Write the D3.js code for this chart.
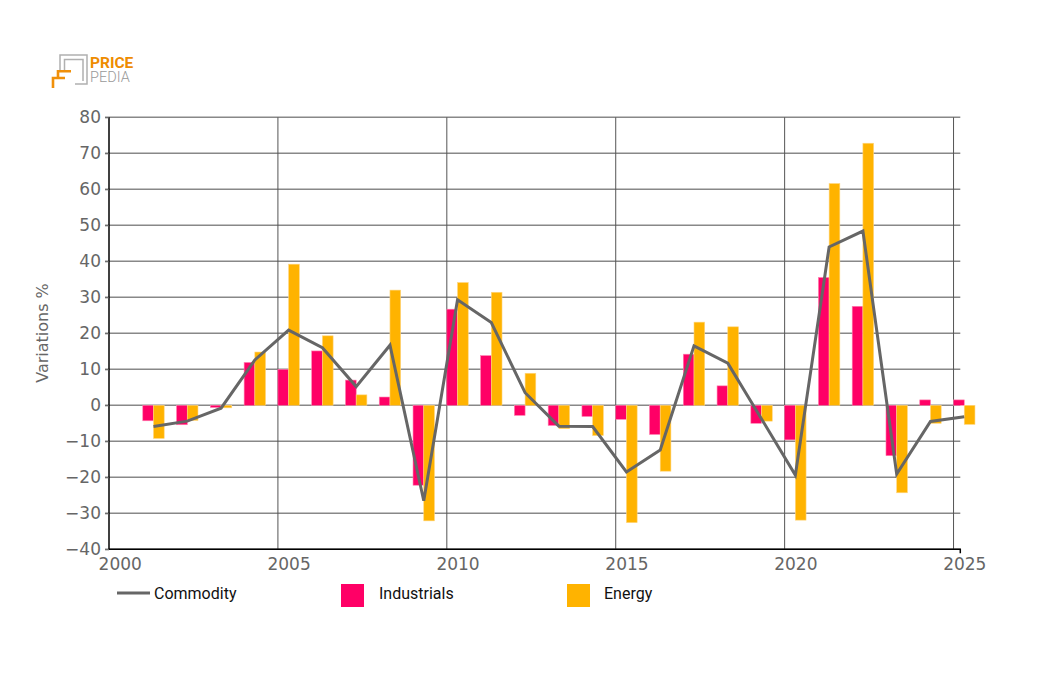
<!DOCTYPE html>
<html>
<head>
<meta charset="utf-8">
<script src="https://cdn.jsdelivr.net/npm/d3@7"></script>
<style>
  html, body { margin: 0; padding: 0; background: #fff; }
  svg { display: block; }
</style>
</head>
<body>
<svg id="chart" width="1056" height="700"></svg>
<script>
const years = [2001,2002,2003,2004,2005,2006,2007,2008,2009,2010,2011,2012,2013,2014,2015,2016,2017,2018,2019,2020,2021,2022,2023,2024,2025];
const industrials = [-4.3,-5.4,-0.6,11.9,10.0,15.1,7.0,2.3,-22.2,26.7,13.8,-2.8,-5.6,-3.1,-3.9,-8.1,14.2,5.4,-5.0,-9.6,35.5,27.5,-14.0,1.5,1.5];
const energy = [-9.2,-4.2,-0.7,14.8,39.2,19.3,2.9,32.0,-32.1,34.1,31.4,8.9,-6.5,-8.4,-32.6,-18.3,23.1,21.8,-4.4,-31.9,61.6,72.8,-24.3,-5.0,-5.3];
const commodity = [-5.9,-4.4,-0.8,12.6,20.9,16.0,5.2,16.7,-26.5,29.3,23.0,3.5,-5.8,-5.9,-18.5,-12.4,16.5,11.7,-3.8,-19.4,44.0,48.4,-19.1,-4.5,-3.2];
const xTicks = [2000,2005,2010,2015,2020,2025];
const yTicks = [80,70,60,50,40,30,20,10,0,-10,-20,-30,-40];
const seriesNames = ["Commodity","Industrials","Energy"];

(function () {
const colors = { Commodity: "#666666", Industrials: "#ff0066", Energy: "#ffb300" };
const svg = d3.select("#chart");
const pLeft = 109, pRight = 960.3, pTop = 117.3, pBottom = 549.3;
const off = 0.317; // bar width in years

const x = d3.scaleLinear().domain([2000, 2025.2]).range([pLeft, pRight]);
const y = d3.scaleLinear().domain([-40, 80]).range([pBottom, pTop]);

// horizontal grid
svg.append("g").selectAll("line").data(yTicks).join("line")
  .attr("x1", pLeft - 4).attr("x2", pRight)
  .attr("y1", d => y(d)).attr("y2", d => y(d))
  .attr("stroke", "#888").attr("stroke-width", 1.6);

// vertical grid
svg.append("g").selectAll("line").data(xTicks.slice(1)).join("line")
  .attr("x1", d => x(d)).attr("x2", d => x(d))
  .attr("y1", pTop).attr("y2", pBottom)
  .attr("stroke", "#555").attr("stroke-width", 1);

// bars
const data = years.map((yr, i) => ({ yr, ind: industrials[i], en: energy[i], com: commodity[i] }));
svg.append("g").selectAll("rect").data(data).join("rect")
  .attr("x", d => x(d.yr)).attr("width", d => x(d.yr + off) - x(d.yr))
  .attr("y", d => y(Math.max(0, d.ind))).attr("height", d => Math.abs(y(d.ind) - y(0)))
  .attr("fill", colors.Industrials).attr("stroke", "#ff80b0").attr("stroke-width", 0.6);
svg.append("g").selectAll("rect").data(data).join("rect")
  .attr("x", d => x(d.yr + off)).attr("width", d => x(d.yr + 2*off) - x(d.yr + off))
  .attr("y", d => y(Math.max(0, d.en))).attr("height", d => Math.abs(y(d.en) - y(0)))
  .attr("fill", colors.Energy).attr("stroke", "#ffd680").attr("stroke-width", 0.6);

// line
const line = d3.line().x(d => x(d.yr + off)).y(d => y(d.com));
svg.append("path").datum(data).attr("d", line)
  .attr("fill", "none").attr("stroke", colors.Commodity).attr("stroke-width", 3)
  .attr("stroke-linejoin", "miter");

// y axis
const yAxis = d3.axisLeft(y).tickValues(yTicks).tickSize(4).tickPadding(4);
const gy = svg.append("g").attr("transform", `translate(${pLeft},0)`).call(yAxis);
gy.select(".domain").attr("stroke", "#000").attr("stroke-width", 1.5).attr("d", `M0,${pTop}V${pBottom}`);
gy.selectAll(".tick line").attr("stroke", "#666");
gy.selectAll(".tick text").attr("fill", "#666").attr("font-family", "DejaVu Sans").attr("font-size", 17);

// x axis
const xAxis = d3.axisBottom(x).tickValues(xTicks).tickSize(0).tickPadding(9).tickFormat(d3.format("d"));
const gx = svg.append("g").attr("transform", `translate(0,${pBottom})`).call(xAxis);
gx.select(".domain").attr("stroke", "#000").attr("stroke-width", 1.5).attr("d", `M${pLeft},0H${pRight}V4`);
gx.selectAll(".tick text").attr("fill", "#666").attr("font-family", "DejaVu Sans").attr("font-size", 17)
  .attr("transform", d => `translate(${x(d + off) - x(d)},0)`);

// axis title
svg.append("text").attr("transform", "translate(48,333) rotate(-90)")
  .attr("text-anchor", "middle").attr("fill", "#666")
  .attr("font-family", "DejaVu Sans").attr("font-size", 16).text("Variations %");

// legend
const lg = svg.append("g").attr("font-family", "Roboto").attr("font-size", 16).attr("fill", "#111");
lg.append("line").attr("x1", 117).attr("x2", 150).attr("y1", 593).attr("y2", 593)
  .attr("stroke", colors.Commodity).attr("stroke-width", 3);
lg.append("text").attr("x", 154).attr("y", 599).text(seriesNames[0]);
lg.append("rect").attr("x", 341).attr("y", 584).attr("width", 23).attr("height", 23).attr("fill", colors.Industrials);
lg.append("text").attr("x", 379).attr("y", 599).text(seriesNames[1]);
lg.append("rect").attr("x", 567).attr("y", 584).attr("width", 23).attr("height", 23).attr("fill", colors.Energy);
lg.append("text").attr("x", 604).attr("y", 599).text(seriesNames[2]);

// logo
const logo = svg.append("g");
logo.append("path").attr("d", "M60,72 V55 H87 V84 H75").attr("fill", "none").attr("stroke", "#b0b0b0").attr("stroke-width", 1.5);
logo.append("path").attr("d", "M64.5,70 V59.5 H83 V81").attr("fill", "none").attr("stroke", "#b0b0b0").attr("stroke-width", 1.5);
logo.append("path").attr("d", "M58,79 V71.2 H71").attr("fill", "none").attr("stroke", "#f0900a").attr("stroke-width", 2.6);
logo.append("path").attr("d", "M53,88 V78 H65").attr("fill", "none").attr("stroke", "#f0900a").attr("stroke-width", 2.6);
logo.append("text").attr("x", 90).attr("y", 68).attr("font-family", "Roboto").attr("font-weight", "bold")
  .attr("font-size", 15.5).attr("fill", "#ee8c00").text("PRICE");
logo.append("text").attr("x", 90).attr("y", 82).attr("font-family", "Roboto").attr("font-weight", 300)
  .attr("font-size", 14.5).attr("fill", "#999").text("PEDIA");
})();
</script>
</body>
</html>
